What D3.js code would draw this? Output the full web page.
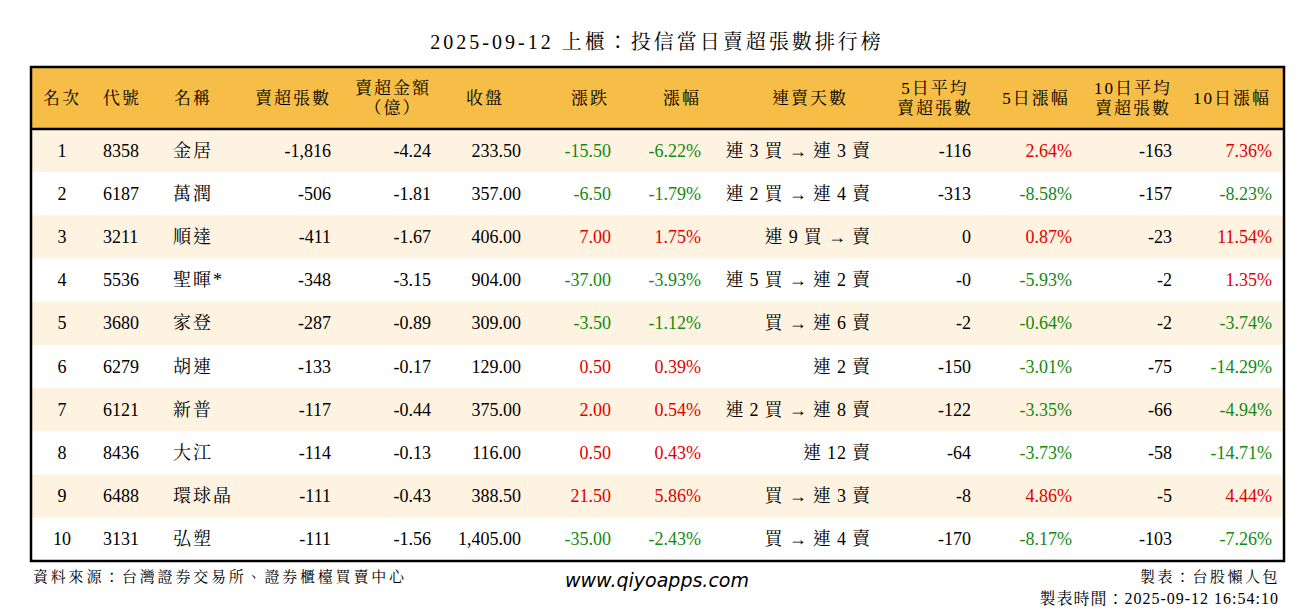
<!DOCTYPE html><html><head><meta charset="utf-8"><script src="https://cdn.jsdelivr.net/npm/d3@7"></script>
<style>body{margin:0;background:#fff}</style></head><body><svg id="c" width="1314" height="612"></svg>
<script>
const ranks=[1,2,3,4,5,6,7,8,9,10];
const codes=["8358","6187","3211","5536","3680","6279","6121","8436","6488","3131"];
const names=["金居","萬潤","順達","聖暉*","家登","胡連","新普","大江","環球晶","弘塑"];
const netSell=["-1,816","-506","-411","-348","-287","-133","-117","-114","-111","-111"];
const amount=["-4.24","-1.81","-1.67","-3.15","-0.89","-0.17","-0.44","-0.13","-0.43","-1.56"];
const close=["233.50","357.00","406.00","904.00","309.00","129.00","375.00","116.00","388.50","1,405.00"];
const change=["-15.50","-6.50","7.00","-37.00","-3.50","0.50","2.00","0.50","21.50","-35.00"];
const pct=["-6.22%","-1.79%","1.75%","-3.93%","-1.12%","0.39%","0.54%","0.43%","5.86%","-2.43%"];
const streak=["連 3 買 → 連 3 賣","連 2 買 → 連 4 賣","連 9 買 → 賣","連 5 買 → 連 2 賣","買 → 連 6 賣","連 2 賣","連 2 買 → 連 8 賣","連 12 賣","買 → 連 3 賣","買 → 連 4 賣"];
const avg5=["-116","-313","0","-0","-2","-150","-122","-64","-8","-170"];
const pct5=["2.64%","-8.58%","0.87%","-5.93%","-0.64%","-3.01%","-3.35%","-3.73%","4.86%","-8.17%"];
const avg10=["-163","-157","-23","-2","-2","-75","-66","-58","-5","-103"];
const pct10=["7.36%","-8.23%","11.54%","1.35%","-3.74%","-14.29%","-4.94%","-14.71%","4.44%","-7.26%"];
const headers=[["名次"],["代號"],["名稱"],["賣超張數"],["賣超金額","（億）"],["收盤"],["漲跌"],["漲幅"],["連賣天數"],["5日平均","賣超張數"],["5日漲幅"],["10日平均","賣超張數"],["10日漲幅"]];
const cols=[ranks,codes,names,netSell,amount,close,change,pct,streak,avg5,pct5,avg10,pct10];
const colorCols=[6,7,10,12];
const spacing=[0,0,2,0,0,0,0,0,0.8,0,0,0,0];
const colX=[62,103,173,331,431,521,611,701,870,971,1072,1172,1272];
const colAnchor=["middle","start","start","end","end","end","end","end","end","end","end","end","end"];
const headX=[62,122,193,293,393,485,590,682,810,935,1036,1133,1232];
const F="'Liberation Serif','Noto Serif CJK TC','Noto Sans CJK TC',serif";
const svg=d3.select("#c");
const L=31,R=1284,T=67,HB=129,B=561;
const y=d3.scaleBand().domain(d3.range(10)).range([HB,B]);
svg.append("text").attr("x",657).attr("y",49).attr("text-anchor","middle").attr("font-family",F).attr("font-size",20).attr("letter-spacing",3).text("2025-09-12 上櫃：投信當日賣超張數排行榜");
svg.append("rect").attr("x",L).attr("y",T).attr("width",R-L).attr("height",HB-T).attr("fill","#F6BD47");
svg.selectAll(".rb").data(d3.range(10)).join("rect").attr("x",L).attr("y",i=>y(i)).attr("width",R-L).attr("height",y.bandwidth()).attr("fill",i=>i%2==0?"#FDF3E0":"#fff");
headers.forEach((h,j)=>{const t=svg.append("text").attr("font-family",F).attr("font-size",17).attr("letter-spacing",2).attr("text-anchor","middle");
 if(h.length==1)t.append("tspan").attr("x",headX[j]).attr("y",104).text(h[0]);
 else{t.append("tspan").attr("x",headX[j]).attr("y",94).text(h[0]);t.append("tspan").attr("x",headX[j]).attr("y",114).text(h[1]);}});
const col=v=>{const n=parseFloat(String(v).replace(/,/g,''));return n>0?"#E00000":n<0?"#138A13":"#000"};
cols.forEach((arr,j)=>{svg.selectAll(".c"+j).data(arr).join("text").attr("x",colX[j]+(colAnchor[j]=="end"?spacing[j]:0)).attr("y",(d,i)=>y(i)+y.bandwidth()/2+6).attr("text-anchor",colAnchor[j]).attr("font-family",F).attr("font-size",18).attr("letter-spacing",spacing[j]).attr("fill",d=>colorCols.includes(j)?col(d):"#000").text(d=>d);});
svg.append("line").attr("x1",L).attr("x2",R).attr("y1",HB).attr("y2",HB).attr("stroke","#000").attr("stroke-width",2.5);
svg.append("rect").attr("x",L).attr("y",T).attr("width",R-L).attr("height",B-T).attr("fill","none").attr("stroke","#000").attr("stroke-width",2.5);
svg.append("text").attr("x",33).attr("y",582).attr("font-family",F).attr("font-size",15).attr("letter-spacing",2.8).text("資料來源：台灣證券交易所、證券櫃檯買賣中心");
svg.append("text").attr("x",657).attr("y",587).attr("text-anchor","middle").attr("font-family","'DejaVu Sans',sans-serif").attr("font-style","italic").attr("font-size",19).text("www.qiyoapps.com");
svg.append("text").attr("x",1280).attr("y",582).attr("text-anchor","end").attr("font-family",F).attr("font-size",15).attr("letter-spacing",2.5).text("製表：台股懶人包");
svg.append("text").attr("x",1279).attr("y",604).attr("text-anchor","end").attr("font-family",F).attr("font-size",16).attr("letter-spacing",1).text("製表時間：2025-09-12 16:54:10");
</script></body></html>
